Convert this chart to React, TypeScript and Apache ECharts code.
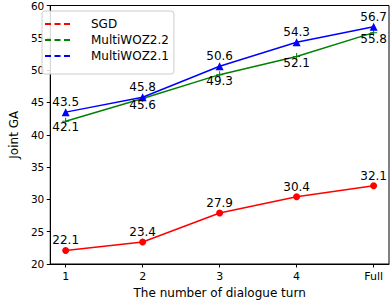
import React, { useEffect, useRef } from "react";
import * as echarts from "echarts";

const turns = ["1", "2", "3", "4", "Full"];
const sgd = [22.1, 23.4, 27.9, 30.4, 32.1];
const mwoz22 = [42.1, 45.6, 49.3, 52.1, 55.8];
const mwoz21 = [43.5, 45.8, 50.6, 54.3, 56.7];
const yTicks = { min: 20, max: 60, interval: 5 };

const FONT = "DejaVu Sans";
const dashIcon = "path://M0,0h6v2h-6zM9.5,0h6v2h-6zM19,0h6v2h-6z";
const plusSymbol = "path://M4.3,0h1.4v4.3h4.3v1.4h-4.3v4.3h-1.4v-4.3h-4.3v-1.4h4.3z";

const toPairs = (vals: number[]) => vals.map((v, i) => [i + 1, v]);

export default function App() {
  const ref = useRef<HTMLDivElement>(null);
  useEffect(() => {
    if (!ref.current) return;
    const chart = echarts.init(ref.current, null, { renderer: "svg" });
    const labelAbove = {
      show: true,
      position: "inside",
      offset: [0, -10],
      color: "#000",
      fontFamily: FONT,
      fontSize: 12,
    };
    const labelBelow = { ...labelAbove, offset: [0, 6] };
    chart.setOption({
      animation: false,
      backgroundColor: "#fff",
      textStyle: { fontFamily: FONT },
      grid: {
        left: 36,
        right: 1,
        top: 5,
        bottom: 36,
        show: true,
        borderColor: "#000",
        borderWidth: 1,
        backgroundColor: "transparent",
      },
      legend: {
        left: 42,
        top: 11,
        orient: "vertical",
        itemWidth: 25,
        itemHeight: 2,
        itemGap: 0,
        padding: [5, 5, 10, 3],
        borderColor: "#ccc",
        borderWidth: 1,
        borderRadius: 3,
        backgroundColor: "rgba(255,255,255,0.85)",
        formatter: "{a|{name}}",
        textStyle: {
          fontFamily: FONT,
          fontSize: 12,
          color: "#000",
          lineHeight: 16,
          rich: {
            a: {
              fontFamily: FONT,
              fontSize: 12,
              color: "#000",
              lineHeight: 16,
              padding: [0, 0, 0, 16],
            },
          },
        },
        data: [
          { name: "SGD", icon: dashIcon },
          { name: "MultiWOZ2.2", icon: dashIcon },
          { name: "MultiWOZ2.1", icon: dashIcon },
        ],
      },
      xAxis: {
        type: "value",
        min: 0.8,
        max: 5.2,
        name: "The number of dialogue turn",
        nameLocation: "middle",
        nameGap: 23,
        nameTextStyle: { fontFamily: FONT, fontSize: 12, color: "#000" },
        axisLine: { lineStyle: { color: "#000", width: 1 } },
        axisTick: {
          show: true,
          length: 3.5,
          lineStyle: { color: "#000" },
          customValues: [1, 2, 3, 4, 5],
        },
        axisLabel: {
          customValues: [1, 2, 3, 4, 5],
          formatter: (v: number) => turns[Math.round(v) - 1] ?? "",
          margin: 7,
          fontFamily: FONT,
          fontSize: 11,
          color: "#000",
        },
        splitLine: { show: false },
      },
      yAxis: {
        type: "value",
        min: yTicks.min,
        max: yTicks.max,
        interval: yTicks.interval,
        name: "Joint GA",
        nameLocation: "middle",
        nameGap: 27,
        nameTextStyle: { fontFamily: FONT, fontSize: 12, color: "#000" },
        axisLine: { show: true, lineStyle: { color: "#000", width: 1 } },
        axisTick: { show: true, length: 3.5, lineStyle: { color: "#000" } },
        axisLabel: { margin: 6, fontFamily: FONT, fontSize: 10.5, color: "#000" },
        splitLine: { show: false },
      },
      series: [
        {
          name: "SGD",
          type: "line",
          data: toPairs(sgd),
          color: "#ff0000",
          lineStyle: { width: 1.5, color: "#ff0000" },
          symbol: "circle",
          symbolSize: 7,
          itemStyle: { color: "#ff0000" },
          label: labelAbove,
        },
        {
          name: "MultiWOZ2.2",
          type: "line",
          data: toPairs(mwoz22),
          color: "#008000",
          lineStyle: { width: 1.5, color: "#008000" },
          symbol: plusSymbol,
          symbolSize: 7,
          itemStyle: { color: "#008000" },
          label: labelBelow,
        },
        {
          name: "MultiWOZ2.1",
          type: "line",
          data: toPairs(mwoz21),
          color: "#0000ff",
          lineStyle: { width: 1.5, color: "#0000ff" },
          symbol: "triangle",
          symbolSize: 8,
          itemStyle: { color: "#0000ff" },
          label: labelAbove,
        },
      ],
    });
    return () => chart.dispose();
  }, []);
  return (
    <div
      ref={ref}
      style={{ position: "fixed", left: 0, top: 0, width: 390, height: 304 }}
    />
  );
}
